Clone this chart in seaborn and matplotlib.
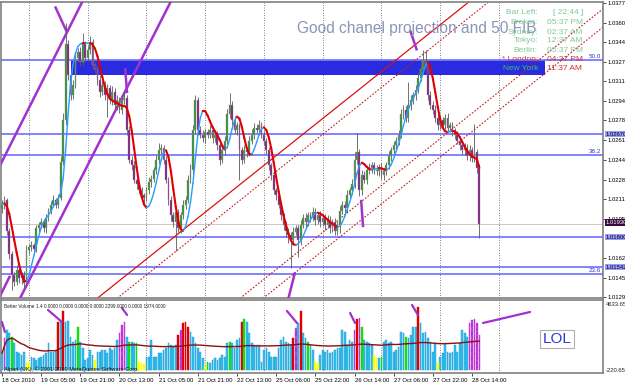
import numpy as np
import pandas as pd
import seaborn as sns
import matplotlib.pyplot as plt
import matplotlib.transforms as mtransforms
from matplotlib.collections import LineCollection
from matplotlib.patches import Rectangle

# hourly closes, 18 Oct 13:00 .. 28 Oct
closes = [
    1.0207, 1.0211, 1.0185, 1.0165, 1.0148, 1.0142, 1.0152, 1.0145, 1.0148, 1.0141, 1.0169, 1.0171, 1.0173, 1.0170,
    1.0187, 1.0190, 1.0192, 1.0187, 1.0196, 1.0202, 1.0207, 1.0211, 1.0207, 1.0213, 1.0243, 1.0278, 1.0342, 1.0316,
    1.0299, 1.0308, 1.0331, 1.0336, 1.0327, 1.0342, 1.0331, 1.0337, 1.0344, 1.0325, 1.0321, 1.0312, 1.0302, 1.0308,
    1.0299, 1.0305, 1.0295, 1.0302, 1.0291, 1.0295, 1.0287, 1.0295, 1.0297, 1.0270, 1.0245, 1.0240, 1.0228, 1.0224,
    1.0219, 1.0215, 1.0213, 1.0219, 1.0226, 1.0229, 1.0236, 1.0245, 1.0253, 1.0255, 1.0245, 1.0228, 1.0211, 1.0198,
    1.0192, 1.0201, 1.0187, 1.0198, 1.0207, 1.0211, 1.0228, 1.0236, 1.0270, 1.0295, 1.0270, 1.0266, 1.0263, 1.0268,
    1.0266, 1.0270, 1.0263, 1.0266, 1.0257, 1.0245, 1.0253, 1.0261, 1.0283, 1.0291, 1.0278, 1.0270, 1.0274, 1.0253,
    1.0245, 1.0253, 1.0251, 1.0261, 1.0266, 1.0272, 1.0270, 1.0274, 1.0266, 1.0261, 1.0253, 1.0240, 1.0232, 1.0219,
    1.0215, 1.0207, 1.0198, 1.0190, 1.0185, 1.0181, 1.0177, 1.0184, 1.0187, 1.0177, 1.0190, 1.0196, 1.0192, 1.0198,
    1.0196, 1.0201, 1.0194, 1.0198, 1.0192, 1.0196, 1.0190, 1.0194, 1.0187, 1.0192, 1.0185, 1.0190, 1.0202, 1.0207,
    1.0204, 1.0215, 1.0219, 1.0224, 1.0245, 1.0251, 1.0219, 1.0232, 1.0228, 1.0236, 1.0238, 1.0240, 1.0236, 1.0235,
    1.0238, 1.0232, 1.0235, 1.0240, 1.0248, 1.0253, 1.0257, 1.0261, 1.0266, 1.0283, 1.0287, 1.0280, 1.0291, 1.0295,
    1.0299, 1.0304, 1.0314, 1.0321, 1.0329, 1.0325, 1.0299, 1.0291, 1.0287, 1.0280, 1.0274, 1.0278, 1.0274, 1.0280,
    1.0272, 1.0274, 1.0268, 1.0266, 1.0261, 1.0257, 1.0253, 1.0255, 1.0248, 1.0253, 1.0246, 1.0251, 1.0238, 1.0191,
]
first_open = 1.0203

# wicks in pips above / below the body
wick_up = [
    4, 3, 2, 2, 3, 2, 4, 3, 2, 3, 4, 3, 3, 2,
    3, 2, 4, 3, 3, 2, 3, 4, 2, 3, 5, 6, 18, 4,
    3, 4, 5, 3, 4, 10, 3, 4, 5, 3, 2, 3, 4, 3,
    3, 4, 3, 5, 3, 4, 3, 4, 5, 2, 3, 3, 4, 3,
    2, 3, 2, 3, 4, 3, 3, 4, 6, 3, 2, 3, 2, 3,
    3, 4, 2, 3, 4, 3, 4, 5, 4, 4, 3, 3, 4, 3,
    3, 4, 3, 4, 3, 2, 3, 4, 5, 10, 3, 4, 3, 2,
    3, 4, 3, 4, 5, 4, 3, 4, 3, 3, 2, 3, 2, 3,
    2, 3, 3, 2, 3, 2, 3, 4, 3, 3, 4, 3, 4, 3,
    3, 4, 3, 3, 4, 3, 3, 4, 3, 3, 4, 3, 4, 3,
    3, 4, 3, 5, 6, 16, 3, 4, 3, 3, 4, 3, 3, 4,
    3, 4, 3, 3, 4, 3, 4, 3, 4, 5, 4, 3, 19, 4,
    3, 4, 5, 4, 8, 8, 3, 4, 3, 4, 3, 4, 3, 3,
    4, 3, 3, 4, 3, 4, 3, 4, 3, 4, 3, 24, 3, 3,
]
wick_dn = [
    3, 4, 4, 4, 13, 4, 3, 4, 5, 4, 3, 4, 3, 4,
    3, 4, 3, 3, 4, 3, 3, 2, 3, 3, 2, 3, 4, 4,
    4, 3, 3, 4, 3, 3, 4, 3, 3, 4, 3, 4, 4, 3,
    4, 18, 3, 4, 3, 4, 3, 4, 3, 4, 3, 4, 3, 4,
    3, 4, 6, 3, 3, 4, 3, 3, 4, 3, 4, 3, 4, 5,
    4, 24, 3, 4, 3, 4, 3, 3, 3, 3, 4, 3, 3, 4,
    3, 3, 4, 3, 4, 5, 3, 4, 3, 3, 4, 3, 4, 25,
    4, 3, 4, 3, 3, 4, 3, 4, 3, 4, 3, 4, 4, 3,
    4, 3, 4, 4, 5, 6, 23, 4, 3, 14, 4, 3, 4, 3,
    4, 3, 4, 3, 4, 3, 4, 3, 4, 3, 4, 4, 7, 3,
    4, 3, 4, 3, 3, 4, 5, 4, 3, 4, 3, 4, 3, 3,
    4, 3, 4, 3, 3, 4, 3, 3, 4, 3, 4, 3, 3, 4,
    3, 4, 3, 3, 4, 3, 4, 3, 4, 3, 4, 3, 4, 3,
    3, 4, 3, 4, 3, 4, 3, 4, 3, 4, 3, 3, 4, 12,
]

volume = [
    1091, 2088, 2640, 2421, 2195, 1756, 1197, 1091, 978, 1197, 532, 426, 865, 758,
    645, 758, 865, 978, 1091, 1756, 1197, 1197, 1310, 3192, 3192, 3924, 3192, 3259,
    2195, 1862, 1975, 2820, 1862, 1423, 645, 758, 1310, 978, 645, 1197, 1197, 1310,
    1310, 1091, 1423, 1310, 1423, 1975, 2421, 2973, 3192, 2195, 1862, 1862, 1756, 1756,
    532, 426, 379, 865, 865, 1975, 865, 865, 1091, 1091, 1310, 1423, 1756, 1643,
    1530, 1643, 2308, 2640, 3086, 3192, 2860, 2527, 2195, 1756, 1423, 1197, 758, 246,
    532, 426, 645, 758, 645, 758, 978, 865, 1756, 1862, 1756, 1423, 1975, 2088,
    3192, 3352, 3192, 2421, 1756, 1643, 1643, 1643, 532, 1310, 1423, 1197, 865, 865,
    865, 1423, 1975, 2195, 1862, 1756, 1643, 2088, 2753, 3086, 3924, 2421, 2088, 1862,
    1643, 1310, 532, 426, 978, 1310, 1197, 1310, 1091, 1197, 1310, 1423, 1423, 2640,
    2527, 1643, 1975, 1862, 2640, 3352, 3418, 2820, 1975, 1862, 1756, 1643, 978, 758,
    758, 865, 1862, 1975, 1756, 1862, 1197, 1310, 1530, 2527, 2421, 2195, 2088, 2308,
    2860, 2860, 4190, 3086, 2421, 2527, 2088, 1862, 1197, 1756, 466, 865, 1091, 1756,
    1197, 1091, 1197, 1643, 1197, 1756, 2640, 2421, 2195, 3086, 3305, 3352, 3086, 2299,
]
# b=normal, r=climax, g=churn, y=low, p=climax churn
vol_kind = list(
    "bpbbgbbbbbyybb" "bbbbbbbbbrbrbb" "bbbgbbbbbbybbb" "bbbbbbpppbgbbg"
    "yyybbbbbbbbbbb" "bbrprrrbbbbbby" "gbbbbbbbbgbbbb" "rgbbbbbbbbbbbb"
    "bbbbbbbrpbrbbg" "bbyybbbbbbbbbb" "bbbbprpgbbbbyy" "bgbbbbbbbbbgbb"
    "bbrbbbbbbbybbb" "bbbbbbbbbppppp"
)

tick_bars = [0, 16, 32, 48, 64, 80, 96, 112, 128, 144, 160, 176, 192]
tick_text = ["18 Oct 2010", "19 Oct 05:00", "19 Oct 21:00", "20 Oct 13:00", "21 Oct 05:00",
             "21 Oct 21:00", "22 Oct 13:00", "25 Oct 06:00", "25 Oct 22:00", "26 Oct 14:00",
             "27 Oct 06:00", "27 Oct 22:00", "28 Oct 14:00"]
grid_bars = [11, 35, 59, 83, 107, 131, 155, 179, 203]

price_ticks = [1.03770, 1.03605, 1.03440, 1.03275, 1.03110, 1.02945, 1.02780, 1.02615,
               1.02446, 1.02280, 1.02115, 1.01950, 1.01620, 1.01455, 1.01290]

# horizontal levels: (price, right-side tag or None, fib text or None)
levels = [(1.03289, None, "50.0"), (1.02665, "1.02670", None), (1.02488, None, "38.2"),
          (1.01797, "1.01800", None), (1.01544, "1.01542", None), (1.01485, None, "23.6")]
bid = 1.0191
zone = (28.2, 221.8, 1.03163, 1.03285)   # bar from, bar to, price low, price high

purple_lines = [[(-0.8, 1.0240), (33.3, 1.0380)], [(7.36, 1.0128), (69.4, 1.0380)],
                [(-0.8, 1.0130), (3.3, 1.0147)], [(21.7, 1.0374), (26.4, 1.0353)],
                [(50.3, 1.0322), (51.1, 1.0301)], [(146.7, 1.0211), (147.5, 1.0188)],
                [(117.0, 1.0128), (119.7, 1.0150)], [(166.7, 1.0354), (169.5, 1.0337)]]
red_lines = [[(38.9, 1.0128), (191.7, 1.03795)], [(47.0, 1.0128), (199.8, 1.03795)],
             [(97.2, 1.0128), (250.0, 1.03795)], [(106.6, 1.0128), (259.4, 1.03795)]]
vol_pointers = [[(18.8, 3970), (24.5, 3172)], [(49.0, 4103), (51.1, 3638)],
                [(116.4, 3904), (120.5, 3106)], [(0.0, 3172), (1.2, 2507)],
                [(142.2, 3771), (144.2, 3106)], [(167.5, 4303), (169.9, 3638)],
                [(196.5, 3106), (215.7, 3837)]]

clock_names = ["Bar Left:", "Broker:", "Sydney:", "Tokyo:", "Berlin:", "* London:", "New York"]
clock_times = ["[ 22:44 ]", "05:37 PM", "02:37 AM", "12:37 AM", "05:37 PM", "04:37 PM", "11:37 AM"]

sns.set_theme(style="white")
plt.rcParams['font.family'] = ['Liberation Sans', 'DejaVu Sans']

W, H = 625, 387
def fx(x):
    return x / W
def fy(y):
    return 1 - y / H

c = np.array(closes)
o = np.concatenate([[first_open], c[:-1]])
hi = np.maximum(o, c) + np.array(wick_up) * 0.0001
lo = np.minimum(o, c) - np.array(wick_dn) * 0.0001
bars = np.arange(len(c))

def wma(vals, n):
    out = np.empty(len(vals))
    for k in range(len(vals)):
        w = vals[max(0, k - n + 1):k + 1]
        ws = np.arange(1, len(w) + 1)
        out[k] = (w * ws).sum() / ws.sum()
    return out

n = 12
hma = wma(2 * wma(c, n // 2) - wma(c, n), int(np.sqrt(n)))
hma = wma(hma, 3)

fig = plt.figure(figsize=(6.25, 3.87), dpi=100)
ax = fig.add_axes([fx(1), fy(298), 602 / W, 296 / H])
axv = fig.add_axes([fx(1), fy(373), 602 / W, 73 / H])

for a in (ax, axv):
    a.set_facecolor("white")
    a.set_xlim(-0.4, 245.5)
    for s in a.spines.values():
        s.set_color("#808080")
        s.set_linewidth(1.2)
    for g in grid_bars:
        a.axvline(g, color="#555555", lw=0.6, ls=(0, (1, 2)), zorder=1)

ax.set_ylim(1.01283, 1.03778)

# levels and zone
ax.add_patch(Rectangle((zone[0], zone[2]), zone[1] - zone[0], zone[3] - zone[2],
                       color="#2a2ae0", lw=0, zorder=2))
ax.axhline(bid, color="#c8c8c8", lw=0.7, zorder=1.5)
blend = mtransforms.blended_transform_factory(ax.transAxes, ax.transData)
for p, tag, fib in levels:
    ax.axhline(p, color="#7878ff", lw=1.3, zorder=2.2)
    if fib:
        ax.text(0.997, p + 0.00012, fib, transform=blend, ha="right", va="bottom",
                fontsize=4.5, color="#3232c8")
    if tag:
        ax.text(1.004, p, tag, transform=blend, ha="left", va="center", fontsize=4.2,
                color="black", clip_on=False, zorder=5,
                bbox=dict(boxstyle="square,pad=0.15", fc="#9b9bff", ec="none"))
ax.text(1.004, bid + 0.0001, "1.01930", transform=blend, ha="left", va="center", fontsize=4.2,
        color="white", clip_on=False, zorder=5,
        bbox=dict(boxstyle="square,pad=0.15", fc="#3c0a3c", ec="none"))

# channels
for seg in red_lines[:1]:
    ax.plot(*zip(*seg), color="#e01010", lw=0.9, zorder=2.5)
for seg in red_lines[1:]:
    ax.plot(*zip(*seg), color="#c02020", lw=0.8, ls=(0, (1.5, 1.5)), zorder=2.5)
for seg in purple_lines:
    ax.plot(*zip(*seg), color="#9a32e0", lw=1.8, zorder=2.6, solid_capstyle="butt")
    ax.plot(*zip(*seg), color="#e03050", lw=0.6, ls=(0, (1, 2)), zorder=2.7)

# candles
up = c >= o
ax.vlines(bars, lo, hi, color="#5a5a5a", lw=0.6, zorder=3)
body = np.maximum(np.abs(c - o), 0.00004)
ax.bar(bars[up], body[up], bottom=np.minimum(o, c)[up], width=0.75,
       color="#2f8f2f", edgecolor="#9a9a9a", lw=0.3, zorder=3.2)
ax.bar(bars[~up], body[~up], bottom=np.minimum(o, c)[~up], width=0.75,
       color="#801880", edgecolor="#9a9a9a", lw=0.3, zorder=3.2)

# hull average, blue when rising, red when falling
pts = np.column_stack([bars, hma])
segs = np.stack([pts[:-1], pts[1:]], axis=1)
rising = [hma[k + 1] >= hma[k] for k in range(len(hma) - 1)]
cols = ["#2a9cff" if r else "#e00000" for r in rising]
widths = [1.0 if r else 1.5 for r in rising]
ax.add_collection(LineCollection(segs, colors=cols, linewidths=widths, zorder=4,
                                 capstyle="round"))

ax.set_xticks([])
ax.set_yticks(price_ticks)
ax.set_yticklabels([f"{p:.5f}" for p in price_ticks])
ax.tick_params(axis="y", left=False, labelleft=False, right=True, labelright=True,
               length=2, width=0.5, pad=1, labelsize=4.2, colors="black")

# volume
vol_cols = {"b": "#30c4f4", "r": "#e00000", "g": "#10e010", "y": "#ffff00", "p": "#9a30e8"}
vdf = pd.DataFrame({"bar": bars, "vol": volume, "kind": vol_kind})
for k, col in vol_cols.items():
    sub = vdf[vdf.kind == k]
    edge = "#2090c8" if k == "b" else col
    hatch = "xxxx" if k == "p" else None
    axv.bar(sub.bar, sub.vol, width=0.7, color=col, edgecolor=edge if k != "p" else "#d040d0",
            lw=0.3, hatch=hatch, zorder=3)
vdf["ma"] = vdf.vol.rolling(100, min_periods=1).mean()
sns.lineplot(data=vdf, x="bar", y="ma", ax=axv, color="#8b1010", lw=1.0, zorder=4)
for seg in vol_pointers:
    axv.plot(*zip(*seg), color="#9a32e0", lw=1.6, zorder=5, clip_on=False)
    axv.plot(*zip(*seg), color="#e03050", lw=0.5, ls=(0, (1, 2)), zorder=5.1, clip_on=False)
axv.set_ylim(-220.65, 4633.65)
axv.set_ylabel("")
axv.set_xlabel("")
axv.set_yticks([])
axv.set_xlim(-0.4, 245.5)
axv.set_xticks(tick_bars)
axv.set_xticklabels(tick_text)
axv.tick_params(axis="x", bottom=True, length=2, width=0.5, pad=1.5, labelsize=4.3,
                colors="black")
for lab in axv.get_xticklabels():
    lab.set_ha("left")

fig.text(fx(606), fy(304), "4633.65", fontsize=4.2, va="center", ha="left")
fig.text(fx(606), fy(370), "-220.65", fontsize=4.2, va="center", ha="left")
fig.text(fx(4), fy(306), "Better Volume 1.4 0.0000 0.0000 0.0000 0.0000 2299.0000 0.0000 1974.0000",
         fontsize=3.4, va="center", ha="left", color="#202020")
fig.text(fx(4), fy(369), "Alpari (UK), \u00a9 2001-2010 MetaQuotes Software Corp.",
         fontsize=4.1, va="center", ha="left", color="#101010", zorder=10)
fig.text(fx(557), fy(339), "LOL", fontsize=11, color="#2b3bd0", ha="center", va="center",
         bbox=dict(boxstyle="square,pad=0.15", fc="white", ec="#b0b0b0", lw=0.8))

# chart note and clock
fig.text(fx(297), fy(28), "Good chanel projection and 50 FIB", fontsize=11.2,
         color="#8c94b8", ha="left", va="center")
rows = [13, 22.5, 32, 41, 50, 59.5, 69]
green = "#82c896"
for k, (nm, tm) in enumerate(zip(clock_names, clock_times)):
    ncol = green if k < 5 else ("#d23c3c" if k == 5 else "#30c860")
    tcol = green if k < 5 else "#c83232"
    fig.text(fx(538), fy(rows[k]), nm, fontsize=6, color=ncol, ha="right", va="center")
    fig.text(fx(553 if k == 0 else 547), fy(rows[k]), tm, fontsize=6, color=tcol,
             ha="left", va="center")

fig.savefig("out.png", dpi=100)
